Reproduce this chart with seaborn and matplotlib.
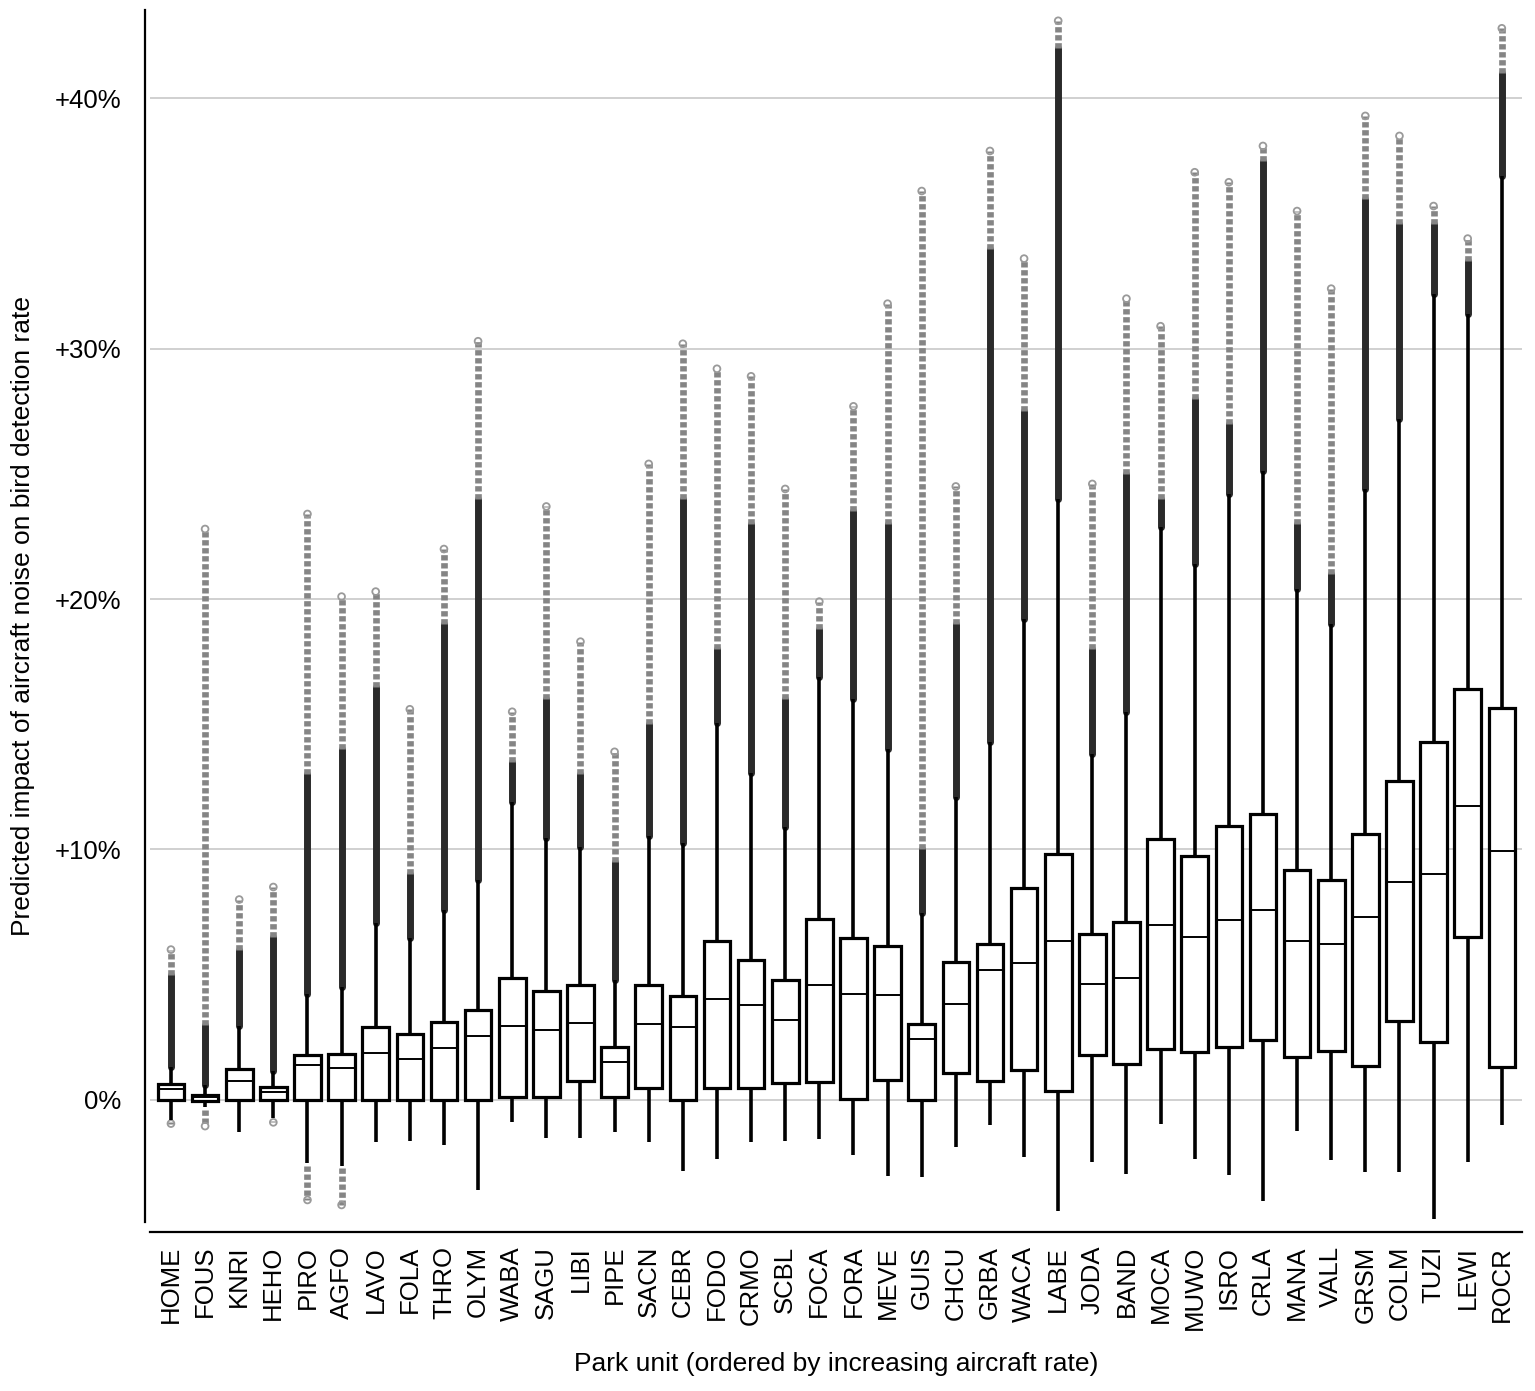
import numpy as np
import pandas as pd
import matplotlib
matplotlib.use("Agg")
import matplotlib.pyplot as plt
import seaborn as sns

# Park units, ordered by increasing aircraft rate
parks = ["HOME", "FOUS", "KNRI", "HEHO", "PIRO", "AGFO", "LAVO", "FOLA", "THRO", "OLYM",
         "WABA", "SAGU", "LIBI", "PIPE", "SACN", "CEBR", "FODO", "CRMO", "SCBL", "FOCA",
         "FORA", "MEVE", "GUIS", "CHCU", "GRBA", "WACA", "LABE", "JODA", "BAND", "MOCA",
         "MUWO", "ISRO", "CRLA", "MANA", "VALL", "GRSM", "COLM", "TUZI", "LEWI", "ROCR"]

# five-number summaries (percent)
whis_lo = [-0.8, -0.3, -1.27, -0.74, -2.53, -2.64, -1.69, -1.63, -1.8, -3.6,
           -0.9, -1.54, -1.54, -1.27, -1.69, -2.85, -2.37, -1.69, -1.65, -1.58,
           -2.2, -3.03, -3.08, -1.9, -1.02, -2.3, -4.45, -2.49, -2.96, -0.95,
           -2.37, -3.0, -4.03, -1.26, -2.4, -2.9, -2.9, -4.75, -2.5, -1.02]
q1 = [0, -0.05, 0, 0, 0, 0, 0, 0, 0, 0,
      0.1, 0.1, 0.74, 0.1, 0.49, -0.02, 0.46, 0.49, 0.68, 0.7,
      0.05, 0.8, 0, 1.07, 0.76, 1.18, 0.36, 1.78, 1.42, 2.01,
      1.9, 2.09, 2.37, 1.71, 1.94, 1.35, 3.15, 2.32, 6.52, 1.3]
median = [0.42, 0.1, 0.74, 0.32, 1.41, 1.27, 1.86, 1.63, 2.05, 2.53,
          2.96, 2.79, 3.06, 1.52, 3.02, 2.89, 4.01, 3.78, 3.17, 4.6,
          4.22, 4.19, 2.42, 3.84, 5.17, 5.45, 6.35, 4.62, 4.86, 6.99,
          6.52, 7.18, 7.58, 6.33, 6.21, 7.3, 8.7, 9.0, 11.73, 9.95]
q3 = [0.63, 0.2, 1.25, 0.53, 1.8, 1.84, 2.89, 2.64, 3.1, 3.59,
      4.86, 4.33, 4.58, 2.11, 4.58, 4.16, 6.34, 5.6, 4.79, 7.22,
      6.47, 6.14, 3.03, 5.52, 6.21, 8.46, 9.83, 6.64, 7.11, 10.4,
      9.72, 10.95, 11.42, 9.19, 8.77, 10.6, 12.75, 14.3, 16.42, 15.64]
whis_hi = [1.33, 0.6, 2.96, 1.16, 4.22, 4.5, 7.07, 6.48, 7.6, 8.8,
           11.9, 10.45, 10.1, 4.8, 10.54, 10.24, 15.06, 13.07, 10.9, 16.9,
           16.0, 14.0, 7.46, 12.1, 14.3, 19.2, 24.0, 13.8, 15.5, 22.9,
           21.4, 24.2, 25.1, 20.4, 19.0, 24.4, 27.2, 32.2, 31.4, 36.9]

# outliers: top of the dense dark run, and the largest / smallest outlier
dense_top = [5.0, 3.0, 6.0, 6.5, 13.0, 14.0, 16.5, 9.0, 19.0, 24.0,
             13.5, 16.0, 13.0, 9.5, 15.0, 24.0, 18.0, 23.0, 16.0, 18.8,
             23.5, 23.0, 10.0, 19.0, 34.0, 27.5, 42.0, 18.0, 25.0, 24.0,
             28.0, 27.0, 37.5, 23.0, 21.0, 36.0, 35.0, 35.0, 33.5, 41.0]
flier_max = [6.0, 22.8, 8.0, 8.5, 23.4, 20.1, 20.3, 15.6, 22.0, 30.3,
             15.5, 23.7, 18.3, 13.9, 25.4, 30.2, 29.2, 28.9, 24.4, 19.9,
             27.7, 31.8, 36.3, 24.5, 37.9, 33.6, 43.1, 24.6, 32.0, 30.9,
             37.05, 36.65, 38.1, 35.5, 32.4, 39.3, 38.5, 35.7, 34.4, 42.8]
flier_min = [-0.95, -1.05, np.nan, -0.9, -4.0, -4.2] + [np.nan] * 34

# long table: each park gets its five summary values
df = pd.DataFrame({
    "park": np.repeat(parks, 5),
    "impact": np.column_stack([whis_lo, q1, median, q3, whis_hi]).ravel(),
})

sns.set_style("white")
plt.rcParams["font.family"] = ["Liberation Sans", "DejaVu Sans"]
plt.rcParams["text.color"] = "black"
plt.rcParams["axes.labelcolor"] = "black"
plt.rcParams["xtick.color"] = "black"
plt.rcParams["ytick.color"] = "black"

fig = plt.figure(figsize=(15.35, 13.91), dpi=100)
ax = fig.add_axes([0.0977, 0.1215, 0.8938, 0.8713])

sns.boxplot(data=df, x="park", y="impact", order=parks, whis=(0, 100),
            color="white", linecolor="black", linewidth=2.3, width=0.78,
            showfliers=False, showcaps=False,
            medianprops=dict(linewidth=1.4),
            whiskerprops=dict(linewidth=2.6), ax=ax, zorder=3)

# outliers
for i in range(len(parks)):
    ax.plot([i, i], [whis_hi[i], dense_top[i]], color="#2a2a2a", lw=5,
            solid_capstyle="round", zorder=2)
    ax.plot([i, i], [dense_top[i], flier_max[i]], color="#858585", lw=4.8,
            ls=(0, (0.8, 0.4)), zorder=2)
    ax.scatter(i, flier_max[i], s=24, facecolors="none", edgecolors="#9a9a9a",
               linewidths=1.3, zorder=2)
    if not np.isnan(flier_min[i]):
        ax.plot([i, i], [whis_lo[i] - 0.1, flier_min[i]], color="#858585", lw=4.8,
                ls=(0, (0.8, 0.4)), zorder=2)
        ax.scatter(i, flier_min[i], s=24, facecolors="none", edgecolors="#9a9a9a",
                   linewidths=1.3, zorder=2)

ax.set_xlim(-0.615, 39.59)
ax.set_ylim(-4.88, 43.53)
ax.set_yticks([0, 10, 20, 30, 40])
ax.set_yticklabels(["0%", "+10%", "+20%", "+30%", "+40%"])
ax.yaxis.grid(True, color="#c4c4c4", lw=1.1)
ax.set_axisbelow(True)

for side in ["top", "right"]:
    ax.spines[side].set_visible(False)
ax.spines["left"].set_position(("outward", 3.6))
ax.spines["bottom"].set_position(("outward", 7.2))
for side in ["left", "bottom"]:
    ax.spines[side].set_linewidth(1.6)
    ax.spines[side].set_color("black")

ax.tick_params(axis="x", rotation=90, labelsize=18.5, length=6, width=1.6, pad=4)
ax.tick_params(axis="y", labelsize=18.5, length=5, width=1.6, pad=12)
ax.set_xlabel("Park unit (ordered by increasing aircraft rate)", fontsize=19, labelpad=16)
ax.set_ylabel("Predicted impact of aircraft noise on bird detection rate", fontsize=19, labelpad=14)

fig.savefig("out.png", dpi=100)
